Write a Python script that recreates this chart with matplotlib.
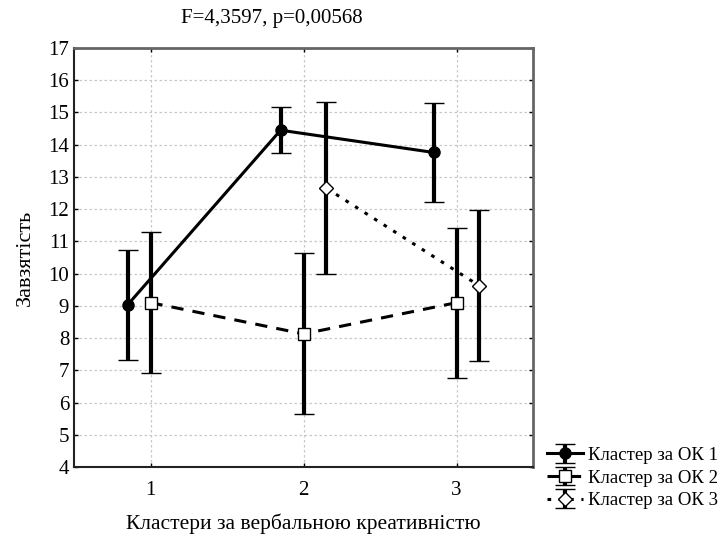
import numpy as np
import matplotlib
matplotlib.use("Agg")
import matplotlib.pyplot as plt

plt.rcParams['font.family'] = ['Liberation Serif', 'DejaVu Serif']

groups = [1, 2, 3]
series_names = ["Кластер за ОК 1", "Кластер за ОК 2", "Кластер за ОК 3"]
means_1 = [9.03, 14.45, 13.76]
err_1 = [1.70, 0.72, 1.53]
means_2 = [9.10, 8.13, 9.10]
err_2 = [2.19, 2.50, 2.33]
means_3 = [np.nan, 12.65, 9.62]
err_3 = [np.nan, 2.67, 2.34]
y_ticks = list(range(4, 18))
title = "F=4,3597, p=0,00568"
xlabel = "Кластери за вербальною креативністю"
ylabel = "Завзятість"

fig = plt.figure(figsize=(7.18, 5.36), dpi=100)
ax = fig.add_axes([0.1031, 0.1287, 0.6393, 0.7817])

offsets = [-0.15, 0.0, 0.15]
styles = [
    dict(marker='o', ls='-', mfc='black', mec='black', ms=8),
    dict(marker='s', ls=(0, (4, 3)), mfc='white', mec='black', ms=9),
    dict(marker='D', ls=(0, (1.2, 2.5)), mfc='white', mec='black', ms=7),
]
handles = []
for means, errs, off, st in zip([means_1, means_2, means_3], [err_1, err_2, err_3], offsets, styles):
    x = np.array(groups, dtype=float) + off
    h = ax.errorbar(x, means, yerr=errs, color='black', lw=2.2, elinewidth=3,
                    capsize=7, capthick=3, marker=st['marker'], ls=st['ls'],
                    mfc=st['mfc'], mec=st['mec'], ms=st['ms'], mew=1, zorder=3)
    handles.append(h)

ax.set_xlim(0.5, 3.5)
ax.set_ylim(4, 17)
ax.set_xticks(groups)
ax.set_yticks(y_ticks)
ax.tick_params(axis='both', labelsize=15, length=3, width=1, direction='in')
ax.tick_params(axis='x', pad=10)
ax.tick_params(right=True, top=True)
ax.grid(True, color='#c8c8c8', ls=(0, (2, 2)), lw=0.9)
ax.set_axisbelow(True)
for s in ['top', 'right']:
    ax.spines[s].set_color('#666666')
    ax.spines[s].set_linewidth(2)
for s in ['left', 'bottom']:
    ax.spines[s].set_color('#222222')
    ax.spines[s].set_linewidth(1.5)

fig.text(0.378, 0.965, title, ha='center', va='center', fontsize=15)
ax.set_xlabel(xlabel, fontsize=15.5, labelpad=10)
ax.set_ylabel(ylabel, fontsize=16, labelpad=10)

fig.legend(handles, series_names, loc='center left', bbox_to_anchor=(0.762, 0.108),
           frameon=False, fontsize=13.5, handlelength=1.9, handletextpad=0.3,
           labelspacing=0.3, borderpad=0, borderaxespad=0)

fig.savefig("out.png", dpi=100)
